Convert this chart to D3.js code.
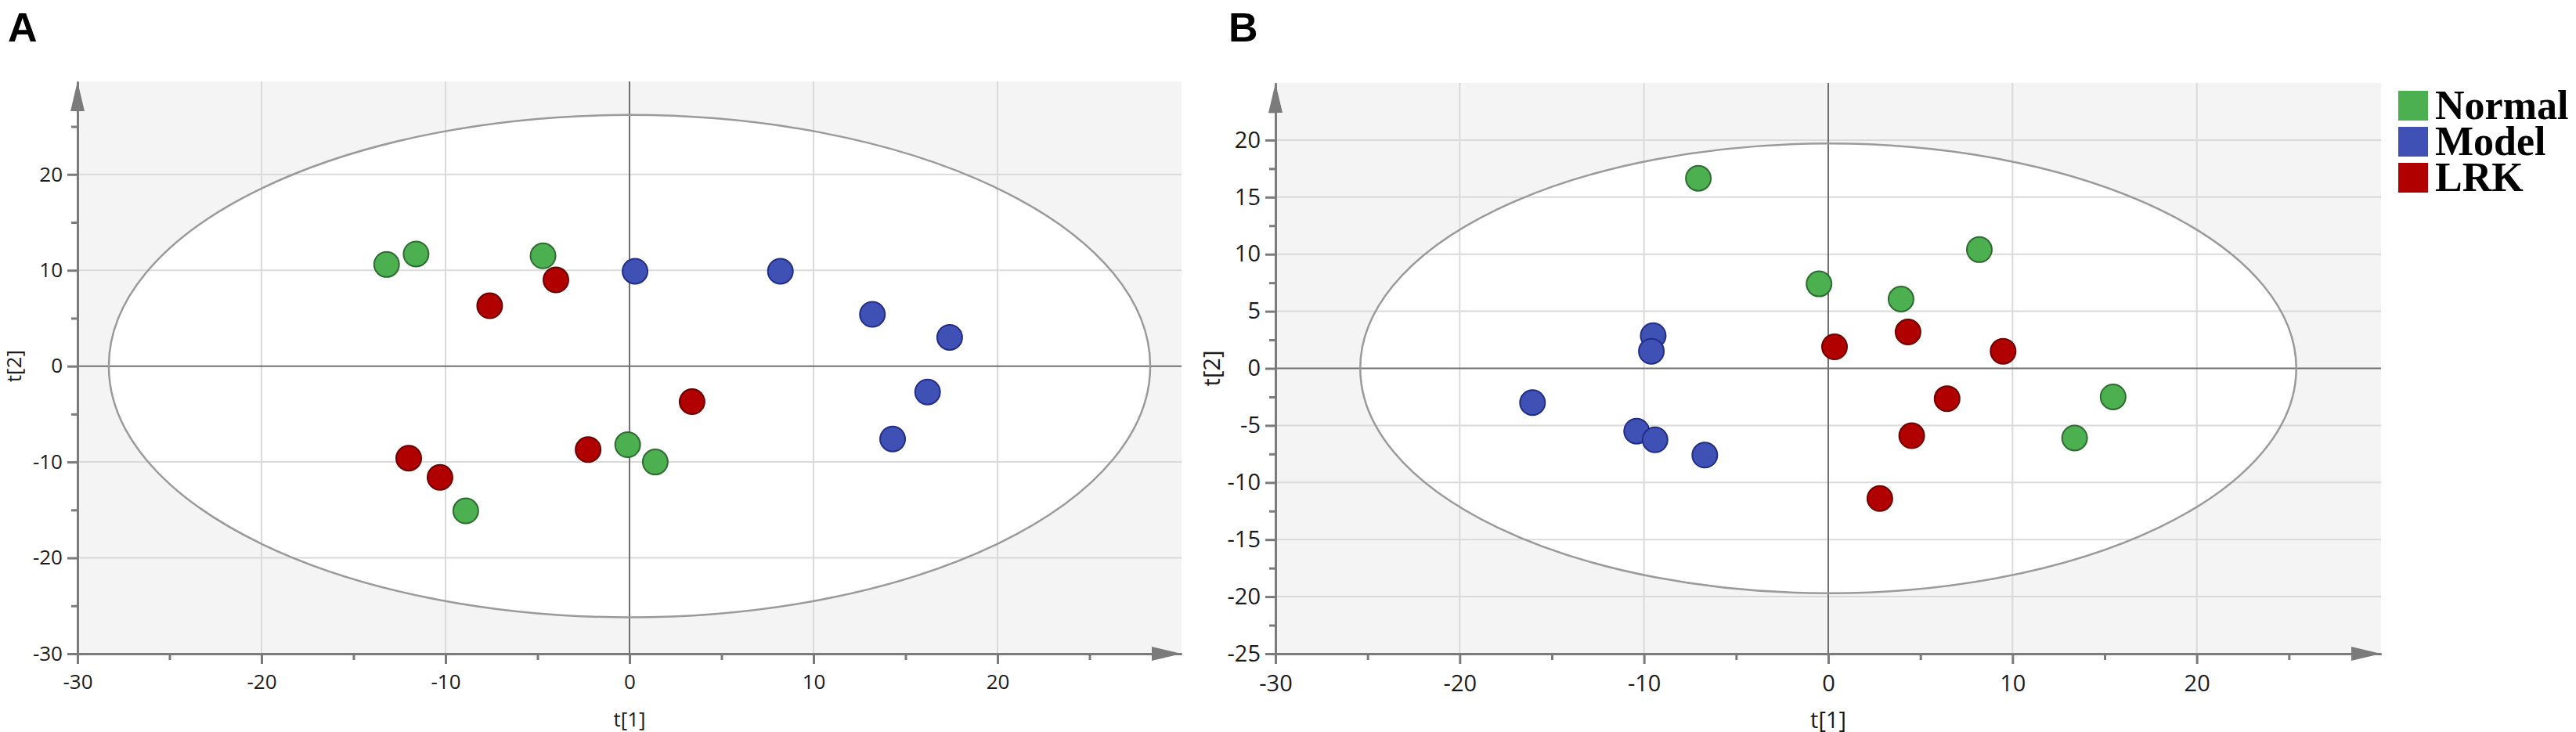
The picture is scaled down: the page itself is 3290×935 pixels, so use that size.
<!DOCTYPE html>
<html>
<head>
<meta charset="utf-8">
<script src="https://cdnjs.cloudflare.com/ajax/libs/d3/7.8.5/d3.min.js"></script>
<style>
  body { margin: 0; background: #fff; }
  svg { display: block; }
  .tick text { font-family: "Open Sans", sans-serif; fill: #1a1a1a; }
</style>
</head>
<body>
<script>
// group names + colours
var groups = ["Normal", "Model", "LRK"];
var fills = ["#4caf50", "#3f51b5", "#b00000"];
var strokes = ["#2e6b31", "#222d85", "#6e0000"];

// panel A scores, [t1, t2]
var normalA = [[-13.2, 10.6], [-11.6, 11.7], [-4.7, 11.5], [-0.1, -8.2], [1.4, -10.0], [-8.9, -15.1]];
var modelA  = [[0.3, 9.9], [8.2, 9.9], [13.2, 5.4], [17.4, 3.0], [16.2, -2.7], [14.3, -7.6]];
var lrkA    = [[-4.0, 9.0], [-7.6, 6.3], [3.4, -3.7], [-2.25, -8.7], [-12.0, -9.6], [-10.3, -11.6]];

// panel B scores
var normalB = [[-7.05, 16.65], [-0.5, 7.4], [3.95, 6.07], [8.2, 10.4], [15.46, -2.5], [13.37, -6.1]];
var modelB  = [[-9.5, 2.87], [-9.6, 1.5], [-16.05, -3.0], [-10.4, -5.5], [-9.4, -6.26], [-6.7, -7.6]];
var lrkB    = [[4.33, 3.19], [0.34, 1.88], [4.53, -5.9], [2.8, -11.4], [9.49, 1.5], [6.45, -2.65]];

// Hotelling T2 ellipse half-axes [t1, t2]
var ellipseA = [28.3, 26.2];
var ellipseB = [25.4, 19.7];

// ticks
var xTicksA = [-30, -20, -10, 0, 10, 20], xMinorA = [-25, -15, -5, 5, 15, 25];
var yTicksA = [-30, -20, -10, 0, 10, 20], yMinorA = [-25, -15, -5, 5, 15, 25];
var xTicksB = [-30, -20, -10, 0, 10, 20], xMinorB = [-25, -15, -5, 5, 15, 25];
var yTicksB = [-25, -20, -15, -10, -5, 0, 5, 10, 15, 20];
var yMinorB = [-22.5, -17.5, -12.5, -7.5, -2.5, 2.5, 7.5, 12.5, 17.5, 22.5];

var svg = d3.select("body").append("svg")
    .attr("width", 3290)
    .attr("height", 935);

var axisColor = "#7b7b7b";

function drawPanel(p) {
  var x = d3.scaleLinear().domain(p.xDomain).range(p.xRange);
  var y = d3.scaleLinear().domain(p.yDomain).range(p.yRange);
  var g = svg.append("g");
  var x0 = p.xRange[0], x1 = p.xRange[1], yb = p.yRange[0], yt = p.yRange[1];

  // grey background, white ellipse inside
  g.append("rect")
    .attr("x", x0).attr("y", yt)
    .attr("width", x1 - x0).attr("height", yb - yt)
    .attr("fill", "#f4f4f4");
  g.append("ellipse")
    .attr("cx", x(0)).attr("cy", y(0))
    .attr("rx", x(p.ellipse[0]) - x(0))
    .attr("ry", y(0) - y(p.ellipse[1]))
    .attr("fill", "#fff");

  // grid
  g.selectAll(".gx").data(p.xTicks.filter(function(d){ return d != 0 && d != p.xDomain[0]; }))
    .enter().append("line")
    .attr("x1", function(d){ return x(d); }).attr("x2", function(d){ return x(d); })
    .attr("y1", yt).attr("y2", yb)
    .attr("stroke", "#dadada").attr("stroke-width", 2);
  g.selectAll(".gy").data(p.yTicks.filter(function(d){ return d != 0 && d != p.yDomain[0]; }))
    .enter().append("line")
    .attr("y1", function(d){ return y(d); }).attr("y2", function(d){ return y(d); })
    .attr("x1", x0).attr("x2", x1)
    .attr("stroke", "#dadada").attr("stroke-width", 2);

  // zero lines
  g.append("line").attr("x1", x(0)).attr("x2", x(0)).attr("y1", yt).attr("y2", yb)
    .attr("stroke", "#707070").attr("stroke-width", 2);
  g.append("line").attr("x1", x0).attr("x2", x1).attr("y1", y(0)).attr("y2", y(0))
    .attr("stroke", "#707070").attr("stroke-width", 2);

  // ellipse outline
  g.append("ellipse")
    .attr("cx", x(0)).attr("cy", y(0))
    .attr("rx", x(p.ellipse[0]) - x(0))
    .attr("ry", y(0) - y(p.ellipse[1]))
    .attr("fill", "none").attr("stroke", "#9a9a9a").attr("stroke-width", 2.5);

  // axes
  var fmt = function(d){ return d; };
  var xAxis = g.append("g").attr("transform", "translate(0," + yb + ")")
    .call(d3.axisBottom(x).tickValues(p.xTicks).tickSize(13).tickSizeOuter(0).tickPadding(14).tickFormat(fmt));
  var xMinor = g.append("g").attr("transform", "translate(0," + yb + ")")
    .call(d3.axisBottom(x).tickValues(p.xMinor).tickSize(8).tickSizeOuter(0).tickFormat(""));
  var yAxis = g.append("g").attr("transform", "translate(" + x0 + ",0)")
    .call(d3.axisLeft(y).tickValues(p.yTicks).tickSize(13).tickSizeOuter(0).tickPadding(6).tickFormat(fmt));
  var yMinor = g.append("g").attr("transform", "translate(" + x0 + ",0)")
    .call(d3.axisLeft(y).tickValues(p.yMinor).tickSize(8).tickSizeOuter(0).tickFormat(""));

  [xAxis, xMinor, yAxis, yMinor].forEach(function(a) {
    a.select(".domain").attr("stroke", axisColor).attr("stroke-width", 3);
    a.selectAll(".tick line").attr("stroke", axisColor).attr("stroke-width", 3);
  });
  xAxis.selectAll(".tick text").style("font-size", p.fontSize + "px");
  yAxis.selectAll(".tick text").style("font-size", p.fontSize + "px");

  // arrows
  g.append("path")
    .attr("d", "M" + x1 + "," + yb + "L" + (x1 - 38) + "," + (yb - 9) + "L" + (x1 - 38) + "," + (yb + 9) + "Z")
    .attr("fill", axisColor);
  g.append("path")
    .attr("d", "M" + x0 + "," + yt + "L" + (x0 - 9) + "," + (yt + 38) + "L" + (x0 + 9) + "," + (yt + 38) + "Z")
    .attr("fill", axisColor);

  // axis titles
  g.append("text")
    .attr("x", (x0 + x1) / 2).attr("y", p.xTitleY)
    .attr("text-anchor", "middle")
    .style("font-family", "Open Sans, sans-serif").style("font-size", p.fontSize + "px")
    .attr("fill", "#1a1a1a")
    .text("t[1]");
  g.append("text")
    .attr("transform", "translate(" + p.yTitleX + "," + y(0) + ") rotate(-90)")
    .attr("text-anchor", "middle")
    .style("font-family", "Open Sans, sans-serif").style("font-size", p.fontSize + "px")
    .attr("fill", "#1a1a1a")
    .text("t[2]");

  // points
  p.series.forEach(function(s, i) {
    g.selectAll(".pt" + i).data(s).enter().append("circle")
      .attr("cx", function(d){ return x(d[0]); })
      .attr("cy", function(d){ return y(d[1]); })
      .attr("r", 16)
      .attr("fill", fills[i])
      .attr("stroke", strokes[i])
      .attr("stroke-width", 2);
  });

  // panel letter
  svg.append("text")
    .attr("x", p.letterX).attr("y", 53)
    .style("font-family", "Liberation Sans, Arial, sans-serif")
    .style("font-weight", "bold").style("font-size", "52px")
    .text(p.letter);
}

drawPanel({
  letter: "A", letterX: 10,
  xDomain: [-30, 30], xRange: [99, 1509],
  yDomain: [-30, 29.7], yRange: [835, 104],
  xTicks: xTicksA, xMinor: xMinorA, yTicks: yTicksA, yMinor: yMinorA,
  ellipse: ellipseA, series: [normalA, modelA, lrkA],
  fontSize: 26, xTitleY: 928, yTitleX: 27
});

drawPanel({
  letter: "B", letterX: 1569,
  xDomain: [-30, 30], xRange: [1629, 3041],
  yDomain: [-25, 25], yRange: [835, 106],
  xTicks: xTicksB, xMinor: xMinorB, yTicks: yTicksB, yMinor: yMinorB,
  ellipse: ellipseB, series: [normalB, modelB, lrkB],
  fontSize: 29, xTitleY: 930, yTitleX: 1558
});

// legend
var legend = svg.append("g").attr("transform", "translate(3063,116)");
var item = legend.selectAll("g").data(groups).enter().append("g")
    .attr("transform", function(d, i){ return "translate(0," + (i * 46) + ")"; });
item.append("rect")
    .attr("width", 38).attr("height", 38)
    .attr("fill", function(d, i){ return fills[i]; });
item.append("text")
    .attr("x", 47).attr("y", 36)
    .style("font-family", "Liberation Serif, Times New Roman, serif")
    .style("font-weight", "bold").style("font-size", "52px")
    .text(function(d){ return d; });
</script>
</body>
</html>
